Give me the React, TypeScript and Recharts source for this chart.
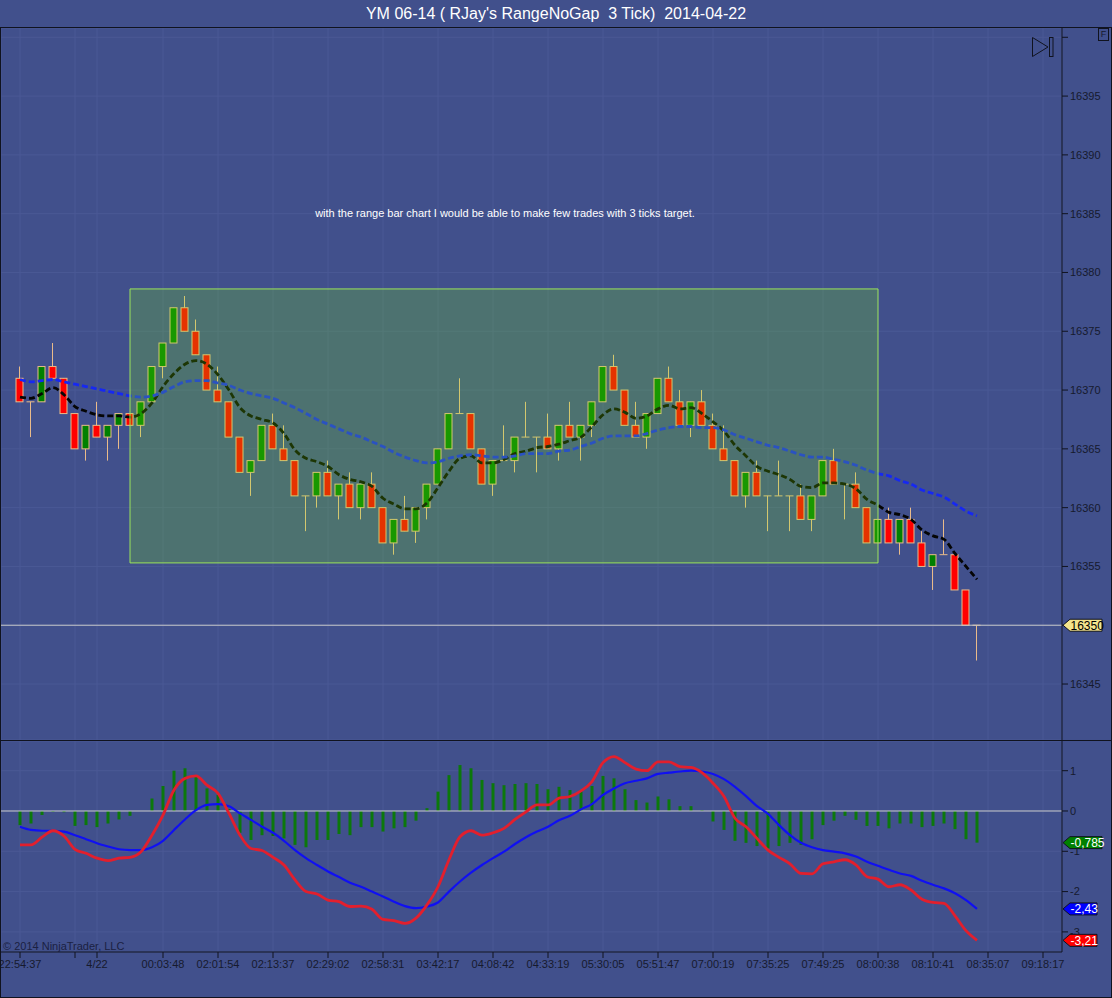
import React from "react";
import {
  ComposedChart,
  Bar,
  Line,
  XAxis,
  YAxis,
  CartesianGrid,
  ReferenceArea,
  ReferenceLine,
} from "recharts";

// Range bars (3 tick).
const opens = [
  16371, 16369, 16369, 16372, 16371, 16368, 16365, 16367, 16366, 16367,
  16368, 16367, 16369, 16372, 16374, 16377, 16375, 16373, 16370, 16369,
  16366, 16363, 16364, 16367, 16365, 16364, 16361, 16361, 16363, 16361,
  16362, 16360, 16362, 16360, 16357, 16359, 16358, 16360, 16362, 16365,
  16368, 16368, 16365, 16362, 16364, 16364, 16366, 16366, 16366, 16365,
  16367, 16366, 16367, 16369, 16372, 16370, 16367, 16366, 16368, 16371,
  16369, 16367, 16369, 16367, 16365, 16364, 16361, 16363, 16361, 16361,
  16361, 16361, 16359, 16361, 16364, 16362, 16362, 16360, 16357, 16359,
  16357, 16359, 16357, 16355, 16356, 16356, 16353, 16350,
];
const highs = [
  16372, 16369, 16372, 16374, 16371, 16368, 16367, 16369, 16367, 16368,
  16368, 16369, 16372, 16374, 16377, 16378, 16376, 16373, 16372, 16369,
  16366, 16364, 16367, 16368, 16367, 16364, 16361, 16363, 16364, 16362,
  16363, 16362, 16363, 16360, 16359, 16361, 16360, 16362, 16365, 16368,
  16371, 16368, 16365, 16364, 16367, 16366, 16369, 16366, 16368, 16367,
  16369, 16367, 16369, 16372, 16373, 16370, 16369, 16368, 16371, 16372,
  16370, 16369, 16370, 16368, 16367, 16364, 16363, 16364, 16361, 16364,
  16361, 16362, 16361, 16364, 16365, 16362, 16363, 16360, 16359, 16360,
  16359, 16360, 16358, 16356, 16359, 16356, 16353, 16350,
];
const lows = [
  16369, 16366, 16369, 16371, 16368, 16365, 16364, 16366, 16364, 16365,
  16367, 16366, 16369, 16371, 16374, 16375, 16373, 16370, 16369, 16366,
  16363, 16361, 16364, 16365, 16364, 16361, 16358, 16360, 16361, 16359,
  16360, 16359, 16360, 16357, 16356, 16358, 16357, 16359, 16362, 16365,
  16368, 16365, 16362, 16361, 16364, 16363, 16366, 16363, 16365, 16364,
  16366, 16364, 16366, 16369, 16370, 16367, 16366, 16365, 16368, 16369,
  16367, 16366, 16367, 16365, 16364, 16361, 16360, 16361, 16358, 16361,
  16358, 16359, 16358, 16361, 16362, 16359, 16360, 16357, 16357, 16357,
  16356, 16357, 16355, 16353, 16356, 16353, 16350, 16347,
];
const closes = [
  16369, 16369, 16372, 16371, 16368, 16365, 16367, 16366, 16367, 16368,
  16367, 16369, 16372, 16374, 16377, 16375, 16373, 16370, 16369, 16366,
  16363, 16364, 16367, 16365, 16364, 16361, 16361, 16363, 16361, 16362,
  16360, 16362, 16360, 16357, 16359, 16358, 16360, 16362, 16365, 16368,
  16368, 16365, 16362, 16364, 16364, 16366, 16366, 16366, 16365, 16367,
  16366, 16367, 16369, 16372, 16370, 16367, 16366, 16368, 16371, 16369,
  16367, 16369, 16367, 16365, 16364, 16361, 16363, 16361, 16361, 16361,
  16361, 16359, 16361, 16364, 16362, 16362, 16360, 16357, 16359, 16357,
  16359, 16357, 16355, 16356, 16356, 16353, 16350, 16350,
];

// black dashed average
const fastAvg = [
  16369.4, 16369.3, 16369.7, 16370.2, 16369.6, 16368.6, 16368.2, 16367.9, 16367.8, 16367.8,
  16367.7, 16368.0, 16368.9, 16370.3, 16371.4, 16372.2, 16372.5, 16372.2, 16371.3, 16370.0,
  16368.5, 16367.8, 16367.5, 16367.2, 16366.3, 16364.9, 16364.2, 16363.9, 16363.5, 16362.8,
  16362.4, 16362.2, 16361.8, 16360.8, 16360.3, 16359.9, 16359.9, 16360.4, 16361.7, 16363.1,
  16364.2, 16364.4, 16363.8, 16363.8, 16364.1, 16364.6, 16364.8, 16365.1, 16365.2, 16365.4,
  16365.7, 16366.0, 16366.9, 16367.9, 16368.4, 16368.1, 16367.6, 16367.8, 16368.4, 16368.7,
  16368.4, 16368.5, 16368.0, 16367.3, 16366.5, 16365.3, 16364.4, 16363.5, 16363.1, 16362.8,
  16362.4, 16361.8, 16361.7, 16362.1, 16362.1, 16362.0, 16361.6, 16360.7, 16360.2, 16359.6,
  16359.4, 16359.0, 16358.1, 16357.6, 16357.3, 16356.1, 16355.0, 16353.9,
];
// blue dashed average
const slowAvg = [
  16370.9, 16370.7, 16370.8, 16370.9, 16370.7, 16370.5, 16370.3, 16370.1, 16369.9, 16369.7,
  16369.5, 16369.4, 16369.5, 16369.8, 16370.3, 16370.7, 16370.8, 16370.8, 16370.6, 16370.4,
  16370.0, 16369.7, 16369.5, 16369.3, 16368.9, 16368.5, 16368.0, 16367.5, 16367.1, 16366.7,
  16366.3, 16366.0, 16365.6, 16365.2, 16364.7, 16364.3, 16364.0, 16363.8, 16363.9, 16364.2,
  16364.4, 16364.5, 16364.4, 16364.3, 16364.3, 16364.4, 16364.6, 16364.6, 16364.6, 16364.8,
  16364.9, 16365.2, 16365.5, 16365.9, 16366.1, 16366.1, 16366.1, 16366.3, 16366.6, 16366.8,
  16366.9, 16366.9, 16366.8, 16366.8, 16366.6, 16366.2, 16365.9, 16365.6, 16365.3, 16365.1,
  16364.8, 16364.5, 16364.3, 16364.3, 16364.1, 16363.9, 16363.6, 16363.2, 16362.9, 16362.7,
  16362.3, 16362.0, 16361.5, 16361.2, 16360.9, 16360.3, 16359.7, 16359.3,
];

// lower panel
const macdLine = [
  -0.84, -0.84, -0.65, -0.49, -0.62, -0.95, -1.05, -1.17, -1.23, -1.17,
  -1.15, -1.01, -0.6, -0.1, 0.52, 0.81, 0.87, 0.64, 0.44, -0.06,
  -0.6, -0.93, -0.98, -1.15, -1.34, -1.71, -2.0, -2.06, -2.21, -2.25,
  -2.37, -2.36, -2.44, -2.69, -2.72, -2.79, -2.66, -2.33, -1.88, -1.21,
  -0.64, -0.49, -0.6, -0.54, -0.43, -0.21, -0.02, 0.15, 0.15, 0.32,
  0.36, 0.5, 0.73, 1.2, 1.35, 1.2, 1.04, 1.0, 1.22, 1.22,
  1.1, 1.08, 0.95, 0.69, 0.36, -0.18, -0.39, -0.68, -0.97, -1.15,
  -1.31, -1.55, -1.56, -1.31, -1.26, -1.21, -1.34, -1.63, -1.69, -1.88,
  -1.83, -1.96, -2.19, -2.27, -2.29, -2.6, -2.97, -3.21,
];
const signalLine = [
  -0.39, -0.47, -0.49, -0.49, -0.51, -0.6, -0.7, -0.8, -0.88, -0.95,
  -0.97, -0.97, -0.9, -0.74, -0.47, -0.21, 0.02, 0.15, 0.17, 0.12,
  -0.06, -0.22, -0.39, -0.54, -0.74, -0.97, -1.17, -1.34, -1.5, -1.64,
  -1.78, -1.88, -2.0, -2.12, -2.25, -2.36, -2.41, -2.37, -2.27, -2.0,
  -1.75, -1.53, -1.34, -1.17, -1.01, -0.82, -0.65, -0.51, -0.39, -0.23,
  -0.12, 0.04, 0.17, 0.4, 0.56, 0.69, 0.75, 0.81, 0.92, 0.95,
  0.98, 1.0, 0.98, 0.92, 0.79, 0.6, 0.37, 0.12, -0.07, -0.35,
  -0.6, -0.79, -0.9, -0.97, -1.01, -1.05, -1.13, -1.26, -1.36, -1.46,
  -1.55, -1.61, -1.73, -1.83, -1.92, -2.04, -2.21, -2.43,
];
const histogram = [
  -0.35, -0.31, -0.1, -0.02, -0.03, -0.37, -0.35, -0.4, -0.31, -0.21,
  -0.12, 0.0, 0.31, 0.62, 1.0, 1.06, 0.85, 0.56, 0.4, 0.05,
  -0.54, -0.72, -0.6, -0.62, -0.68, -0.84, -0.9, -0.72, -0.72, -0.57,
  -0.6, -0.4, -0.4, -0.51, -0.43, -0.4, -0.24, 0.07, 0.48, 0.89,
  1.14, 1.06, 0.77, 0.69, 0.64, 0.67, 0.69, 0.67, 0.54, 0.6,
  0.52, 0.48, 0.62, 0.87, 0.81, 0.54, 0.27, 0.21, 0.36, 0.29,
  0.12, 0.12, 0.02, -0.26, -0.47, -0.74, -0.79, -0.87, -0.93, -0.87,
  -0.79, -0.84, -0.7, -0.35, -0.24, -0.12, -0.22, -0.37, -0.37, -0.43,
  -0.31, -0.31, -0.4, -0.37, -0.31, -0.45, -0.7, -0.785,
];

// time axis: bar slot -> label
const timeTickSlots = [0, 5, 7, 13, 18, 23, 28, 33, 38, 43, 48, 53, 58, 63, 68, 73, 78, 83, 88, 93];
const timeTickLabels = [
  "22:54:37", "", "4/22", "00:03:48", "02:01:54", "02:13:37", "02:29:02", "02:58:31",
  "03:42:17", "04:08:42", "04:33:19", "05:30:05", "05:51:47", "07:00:19", "07:35:25",
  "07:49:25", "08:00:38", "08:10:41", "08:35:07", "09:18:17",
];
const priceTicks = [16345, 16350, 16355, 16360, 16365, 16370, 16375, 16380, 16385, 16390, 16395, 16400];
const oscTicks = [1, 0, -1, -2, -3];

const lastPrice = 16350;
const lastHist = -0.785;
const lastSignal = -2.43;
const lastMacd = -3.21;

// the drawn box
const boxFrom = 10;
const boxTo = 78;
const boxLow = 16355.3;
const boxHigh = 16378.6;

const BG = "#41508c";
const GRID = "#4a5995";
const INK = "#10131f";
const TEXT = "#161a2e";
const UP = "#008000";
const DOWN = "#ff0000";
const OUTLINE = "#e9bb8a";
const FONT = "Arial, 'Liberation Sans', sans-serif";

const slotDomain: [number, number] = [-19 / 11, 1042 / 11];

const rows = opens.map((open, i) => ({
  slot: i,
  open,
  high: highs[i],
  low: lows[i],
  close: closes[i],
  fast: fastAvg[i],
  slow: slowAvg[i],
  macd: macdLine[i],
  signal: signalLine[i],
  hist: histogram[i],
}));

const timeLabel = (v: number) => {
  const k = timeTickSlots.indexOf(v);
  return k < 0 ? "" : timeTickLabels[k];
};

function Candle(props: any) {
  const { x, y, width, height, payload } = props;
  if (x == null || payload == null) return null;
  const top = Math.min(y, y + height);
  const h = Math.abs(height);
  const { open, close, high, low } = payload;
  const per = high === low ? 0 : h / (high - low);
  const cx = x + width / 2;
  const bodyTop = top + (high - Math.max(open, close)) * per;
  const bodyBot = top + (high - Math.min(open, close)) * per;
  const color = close > open ? UP : DOWN;
  return (
    <g>
      <line x1={cx} x2={cx} y1={top} y2={top + h} stroke={OUTLINE} strokeWidth={1} />
      {open === close ? (
        <line x1={x} x2={x + width} y1={bodyTop} y2={bodyTop} stroke={OUTLINE} strokeWidth={1} />
      ) : (
        <rect
          x={x + 0.5}
          y={bodyTop}
          width={width - 1}
          height={bodyBot - bodyTop}
          fill={color}
          stroke={OUTLINE}
          strokeWidth={1}
        />
      )}
    </g>
  );
}

function Tag(props: any) {
  const { viewBox, text, fill, color, w } = props;
  if (!viewBox) return null;
  const x = viewBox.x + viewBox.width + 1;
  const y = viewBox.y;
  const d = `M${x} ${y} L${x + 7} ${y - 6} L${x + 7 + w} ${y - 6} L${x + 7 + w} ${y + 6} L${x + 7} ${y + 6} Z`;
  return (
    <g>
      <path d={d} fill={fill} stroke={INK} strokeWidth={1} />
      <text x={x + 7.5} y={y + 4.5} fontSize={12} fill={color} fontFamily={FONT}>
        {text}
      </text>
    </g>
  );
}

export default function App() {
  return (
    <div
      style={{
        position: "absolute",
        left: 0,
        top: 0,
        width: 1112,
        height: 998,
        background: BG,
        fontFamily: FONT,
        overflow: "hidden",
      }}
    >
      <div
        style={{
          height: 27,
          lineHeight: "27px",
          textAlign: "center",
          color: "#ffffff",
          fontSize: 16,
          whiteSpace: "pre",
        }}
      >
        {"YM 06-14 ( RJay's RangeNoGap  3 Tick)  2014-04-22"}
      </div>

      <div
        style={{
          position: "absolute",
          left: 0,
          top: 27,
          width: 1112,
          height: 971,
          boxSizing: "border-box",
          border: `1px solid ${INK}`,
        }}
      >
        <ComposedChart width={1110} height={712} data={rows} margin={{ top: 0, right: 0, bottom: 0, left: 0 }}>
          <CartesianGrid stroke={GRID} />
          <XAxis
            type="number"
            dataKey="slot"
            domain={slotDomain}
            allowDataOverflow
            ticks={timeTickSlots}
            hide
          />
          <YAxis
            orientation="right"
            width={49}
            domain={[16340.24, 16400.79]}
            allowDataOverflow
            ticks={priceTicks}
            interval={0}
            tickFormatter={(v: number) => (v === 16400 || v === lastPrice ? "" : String(v))}
            tick={{ fill: TEXT, fontSize: 11 }}
            tickLine={{ stroke: INK }}
            axisLine={{ stroke: INK }}
          />
          <ReferenceLine y={lastPrice} stroke="#c9c9c9" />
          <Bar
            dataKey={(d: any) => [d.low, d.high]}
            barSize={8}
            shape={<Candle />}
            isAnimationActive={false}
          />
          <Line
            dataKey="fast"
            type="monotone"
            stroke="#050505"
            strokeWidth={2.8}
            strokeDasharray="6 3"
            dot={false}
            isAnimationActive={false}
          />
          <Line
            dataKey="slow"
            type="monotone"
            stroke="#1628f2"
            strokeWidth={2.8}
            strokeDasharray="6 3"
            dot={false}
            isAnimationActive={false}
          />
          <ReferenceArea
            x1={boxFrom}
            x2={boxTo}
            y1={boxLow}
            y2={boxHigh}
            fill="#7cfc00"
            fillOpacity={0.2}
            stroke="#9be45a"
            strokeOpacity={1}
            zIndex={1000}
          />
          <ReferenceLine
            y={lastPrice}
            stroke="none"
            zIndex={3000}
            label={<Tag text={String(lastPrice)} fill="#f5e58c" color="#000" w={32} />}
          />
        </ComposedChart>

        <div style={{ height: 1, background: INK }} />

        <ComposedChart width={1110} height={256} data={rows} margin={{ top: 0, right: 0, bottom: 0, left: 0 }}>
          <CartesianGrid stroke={GRID} />
          <XAxis
            type="number"
            dataKey="slot"
            domain={slotDomain}
            allowDataOverflow
            ticks={timeTickSlots}
            interval={0}
            tickFormatter={timeLabel}
            height={45}
            tick={{ fill: TEXT, fontSize: 11 }}
            tickLine={{ stroke: INK }}
            axisLine={{ stroke: INK }}
          />
          <YAxis
            orientation="right"
            width={49}
            domain={[-3.499, 1.737]}
            allowDataOverflow
            ticks={oscTicks}
            interval={0}
            tick={{ fill: TEXT, fontSize: 11 }}
            tickLine={{ stroke: INK }}
            axisLine={{ stroke: INK }}
          />
          <ReferenceLine y={0} stroke="#c9c9c9" />
          <Bar dataKey="hist" barSize={3} fill="#0c780c" isAnimationActive={false} />
          <Line
            dataKey="signal"
            type="monotone"
            stroke="#1010f2"
            strokeWidth={2.2}
            dot={false}
            isAnimationActive={false}
          />
          <Line
            dataKey="macd"
            type="monotone"
            stroke="#e21f2d"
            strokeWidth={2.8}
            dot={false}
            isAnimationActive={false}
          />
          <ReferenceLine
            y={lastHist}
            stroke="none"
            zIndex={3000}
            label={<Tag text="-0,785" fill="#008000" color="#fff" w={32} />}
          />
          <ReferenceLine
            y={lastSignal}
            stroke="none"
            zIndex={3000}
            label={<Tag text="-2,43" fill="#0000ff" color="#fff" w={27} />}
          />
          <ReferenceLine
            y={lastMacd}
            stroke="none"
            zIndex={3000}
            label={<Tag text="-3,21" fill="#ff0000" color="#fff" w={27} />}
          />
        </ComposedChart>
      </div>

      <div
        style={{
          position: "absolute",
          left: 505,
          top: 207,
          transform: "translateX(-50%)",
          color: "#ffffff",
          fontSize: 11,
          whiteSpace: "nowrap",
        }}
      >
        with the range bar chart I would be able to make few trades with 3 ticks target.
      </div>

      <div style={{ position: "absolute", left: 3, top: 940, color: "#1b2142", fontSize: 11 }}>
        © 2014 NinjaTrader, LLC
      </div>

      <svg style={{ position: "absolute", left: 1031, top: 36 }} width={24} height={23}>
        <polygon points="1.5,1.5 17,11 1.5,20.5" fill="none" stroke={INK} strokeWidth={1} />
        <rect x={18.5} y={1.5} width={3.5} height={19} fill="none" stroke={INK} strokeWidth={1} />
      </svg>

      <div
        style={{
          position: "absolute",
          left: 1098,
          top: 28,
          width: 11,
          height: 13,
          boxSizing: "border-box",
          border: `1px solid ${INK}`,
          fontSize: 9,
          lineHeight: "11px",
          textAlign: "center",
          color: TEXT,
        }}
      >
        F
      </div>
    </div>
  );
}
